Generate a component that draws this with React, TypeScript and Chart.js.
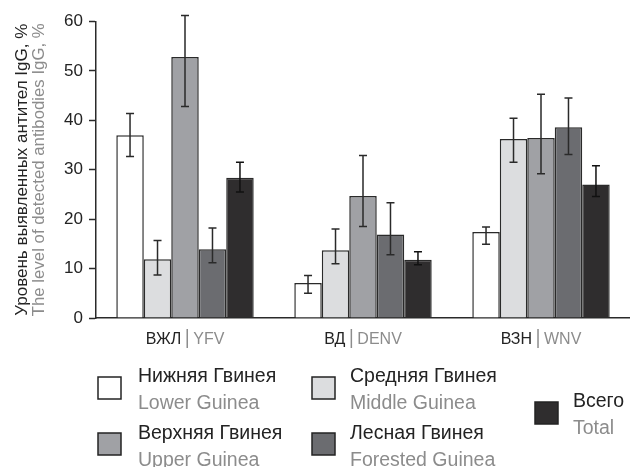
import React, { useEffect, useRef } from 'react';
import { Chart, registerables } from 'chart.js';

Chart.register(...registerables);

const categoriesRu = ['ВЖЛ', 'ВД', 'ВЗН'];
const categoriesEn = ['YFV', 'DENV', 'WNV'];

const seriesRu = ['Нижняя Гвинея', 'Средняя Гвинея', 'Верхняя Гвинея', 'Лесная Гвинея', 'Всего'];
const seriesEn = ['Lower Guinea', 'Middle Guinea', 'Upper Guinea', 'Forested Guinea', 'Total'];
const seriesColors = ['#ffffff', '#dcdddf', '#a0a1a5', '#6b6c70', '#2f2d2e'];

const lowerGuinea = [37.0, 7.1, 17.4];
const middleGuinea = [11.9, 13.7, 36.2];
const upperGuinea = [52.8, 24.7, 36.4];
const forestedGuinea = [13.9, 16.9, 38.6];
const total = [28.4, 11.8, 27.0];

const lowerGuineaErr = [[32.7, 41.4], [5.0, 8.6], [14.9, 18.4]];
const middleGuineaErr = [[8.7, 15.7], [11.0, 18.0], [31.5, 40.4]];
const upperGuineaErr = [[42.8, 61.2], [18.5, 32.9], [29.2, 45.3]];
const forestedGuineaErr = [[11.2, 18.2], [12.8, 23.3], [33.1, 44.5]];
const totalErr = [[25.5, 31.5], [10.8, 13.4], [24.6, 30.8]];

const yMin = 0;
const yMax = 60;
const yStep = 10;

const yTitleRu = 'Уровень выявленных антител IgG, %';
const yTitleEn = 'The level of detected antibodies IgG, %';

const seriesValues = [lowerGuinea, middleGuinea, upperGuinea, forestedGuinea, total];
const seriesErrors = [lowerGuineaErr, middleGuineaErr, upperGuineaErr, forestedGuineaErr, totalErr];

const FONT = '"Liberation Sans", Arial, Helvetica, sans-serif';
const INK = '#232323';
const GRAY = '#8c8c8c';

// legend placement (square x, square y, text x, first baseline)
const legendPlace = [
  [98, 377, 138, 382],
  [312, 377, 350, 382],
  [98, 433, 138, 439],
  [312, 433, 350, 439],
  [535, 402, 573, 407],
];

const errorBarPlugin = {
  id: 'errorBars',
  afterDatasetsDraw(chart: any) {
    const ctx = chart.ctx;
    const ys = chart.scales.y;
    chart.data.datasets.forEach((_ds: any, di: number) => {
      const meta = chart.getDatasetMeta(di);
      meta.data.forEach((bar: any, i: number) => {
        const [lo, hi] = seriesErrors[di][i];
        const x = bar.x;
        const y1 = ys.getPixelForValue(lo);
        const y2 = ys.getPixelForValue(hi);
        ctx.save();
        ctx.strokeStyle = di === 4 ? '#111' : '#2a2a2a';
        ctx.lineWidth = 1.5;
        ctx.beginPath();
        ctx.moveTo(x, y1);
        ctx.lineTo(x, y2);
        ctx.moveTo(x - 4, y1);
        ctx.lineTo(x + 4, y1);
        ctx.moveTo(x - 4, y2);
        ctx.lineTo(x + 4, y2);
        ctx.stroke();
        ctx.restore();
      });
    });
  },
};

const decorPlugin = {
  id: 'decor',
  afterDraw(chart: any) {
    const ctx = chart.ctx;
    const xs = chart.scales.x;
    const area = chart.chartArea;
    ctx.save();
    // x category labels
    ctx.font = `16px ${FONT}`;
    ctx.textBaseline = 'alphabetic';
    ctx.textAlign = 'left';
    categoriesRu.forEach((ru, i) => {
      const en = categoriesEn[i];
      const cx = xs.getPixelForValue(i);
      const wRu = ctx.measureText(ru).width;
      const wEn = ctx.measureText(en).width;
      const gap = 6;
      const totalW = wRu + gap * 2 + wEn;
      const x0 = cx - totalW / 2;
      const base = 344;
      ctx.fillStyle = INK;
      ctx.fillText(ru, x0, base);
      const bx = x0 + wRu + gap;
      ctx.strokeStyle = GRAY;
      ctx.lineWidth = 1.5;
      ctx.beginPath();
      ctx.moveTo(bx, 329);
      ctx.lineTo(bx, 348);
      ctx.stroke();
      ctx.fillStyle = GRAY;
      ctx.fillText(en, bx + gap, base);
    });

    // y title (two lines, rotated)
    const cy = (area.top + area.bottom) / 2;
    ctx.save();
    ctx.translate(27, cy);
    ctx.rotate(-Math.PI / 2);
    ctx.textAlign = 'center';
    ctx.font = `17px ${FONT}`;
    ctx.fillStyle = INK;
    ctx.fillText(yTitleRu, 0, 0);
    ctx.restore();
    ctx.save();
    ctx.translate(44, cy);
    ctx.rotate(-Math.PI / 2);
    ctx.textAlign = 'center';
    ctx.font = `16.8px ${FONT}`;
    ctx.fillStyle = GRAY;
    ctx.fillText(yTitleEn, 0, 0);
    ctx.restore();

    // legend
    seriesRu.forEach((ru, i) => {
      const [sx, sy, tx, b1] = legendPlace[i];
      ctx.fillStyle = seriesColors[i];
      ctx.fillRect(sx, sy, 23, 22);
      ctx.strokeStyle = INK;
      ctx.lineWidth = 1.5;
      ctx.strokeRect(sx, sy, 23, 22);
      ctx.font = `19.5px ${FONT}`;
      ctx.textAlign = 'left';
      ctx.fillStyle = INK;
      ctx.fillText(ru, tx, b1);
      ctx.fillStyle = GRAY;
      ctx.fillText(seriesEn[i], tx, b1 + 27);
    });
    ctx.restore();
  },
};

export default function App() {
  const ref = useRef<HTMLCanvasElement | null>(null);
  useEffect(() => {
    if (!ref.current) return;
    const chart = new Chart(ref.current, {
      type: 'bar',
      data: {
        labels: categoriesRu,
        datasets: seriesValues.map((vals, i) => ({
          label: seriesRu[i],
          data: vals,
          backgroundColor: seriesColors[i],
          borderColor: '#2a2a2a',
          borderWidth: 1.5,
          barPercentage: 1,
          categoryPercentage: 0.772,
        })),
      },
      options: {
        animation: false,
        responsive: false,
        maintainAspectRatio: false,
        layout: { padding: { left: 0, right: 0, top: 21.5, bottom: 0 } },
        plugins: {
          legend: { display: false },
          tooltip: { enabled: false },
          title: { display: false },
        },
        scales: {
          x: {
            grid: { display: false },
            border: { display: true, color: '#2a2a2a', width: 1.5 },
            ticks: { display: false },
            afterFit: (s: any) => {
              s.height = 149;
            },
          },
          y: {
            min: yMin,
            max: yMax,
            ticks: {
              stepSize: yStep,
              padding: 6,
              color: INK,
              font: { family: FONT, size: 17 },
            },
            grid: {
              display: true,
              drawOnChartArea: false,
              drawTicks: true,
              tickLength: 7,
              tickColor: '#2a2a2a',
              tickWidth: 1.5,
            },
            border: { display: true, color: '#2a2a2a', width: 1.5 },
            afterFit: (s: any) => {
              s.width = 96;
            },
          },
        },
      },
      plugins: [errorBarPlugin, decorPlugin],
    });
    return () => chart.destroy();
  }, []);
  return (
    <div style={{ position: 'fixed', left: 0, top: 0, width: 630, height: 467, background: '#fff' }}>
      <canvas ref={ref} width={630} height={467} style={{ width: 630, height: 467, display: 'block' }} />
    </div>
  );
}
